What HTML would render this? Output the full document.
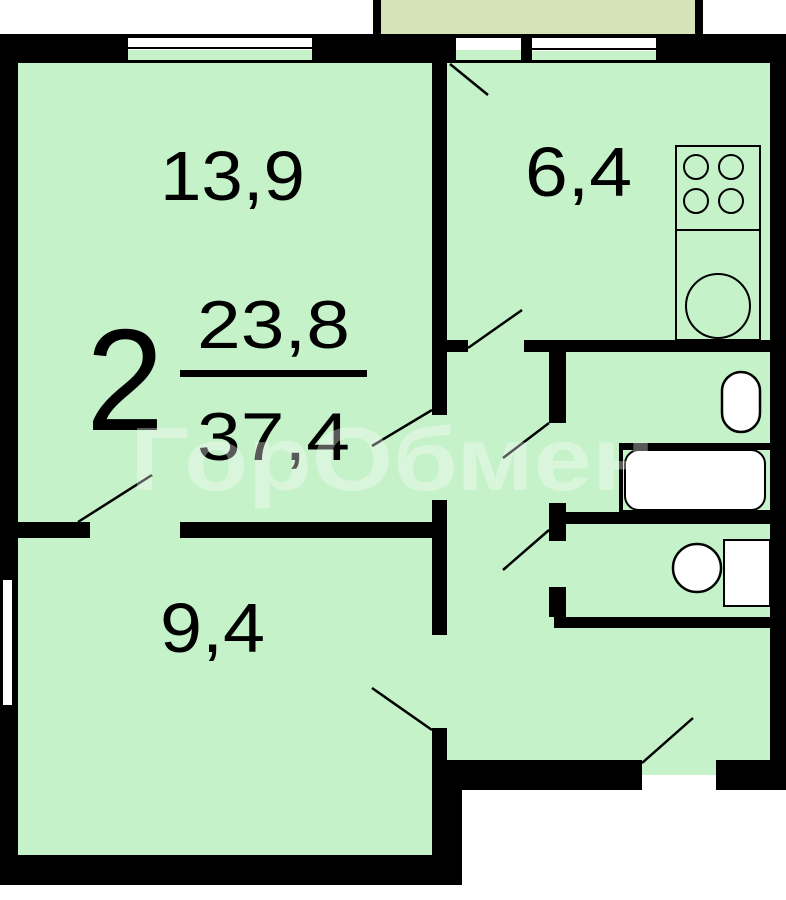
<!DOCTYPE html>
<html><head><meta charset="utf-8"><style>
html,body{margin:0;padding:0;background:#fff}
svg{display:block}
text{font-family:"Liberation Sans",sans-serif;fill:#000}
</style></head><body>
<svg width="786" height="900" viewBox="0 0 786 900">
<rect x="373" y="0" width="330" height="36" fill="#000"/>
<rect x="381" y="0" width="314" height="34" fill="#d5e3b7"/>
<path d="M18 62 H770 V775 H447 V855 H18 Z" fill="#c5f2c9"/>
<rect x="0" y="34" width="786" height="29" fill="#000"/>
<rect x="0" y="34" width="18" height="851" fill="#000"/>
<rect x="770" y="34" width="16" height="756" fill="#000"/>
<rect x="0" y="855" width="462" height="30" fill="#000"/>
<rect x="432" y="760" width="30" height="125" fill="#000"/>
<rect x="432" y="760" width="210" height="30" fill="#000"/>
<rect x="716" y="760" width="70" height="30" fill="#000"/>
<rect x="128" y="38" width="184" height="22" fill="#fff"/>
<rect x="128" y="50" width="184" height="10" fill="#c5f2c9"/>
<line x1="128" y1="48" x2="312" y2="48" stroke="#000" stroke-width="2"/>
<rect x="456" y="38" width="65" height="22" fill="#fff"/>
<rect x="456" y="50" width="65" height="10" fill="#c5f2c9"/>
<rect x="532" y="38" width="124" height="22" fill="#fff"/>
<rect x="532" y="51" width="124" height="9" fill="#c5f2c9"/>
<line x1="532" y1="49" x2="656" y2="49" stroke="#000" stroke-width="2"/>
<rect x="3" y="580" width="9" height="125" fill="#fff"/>
<rect x="432" y="62" width="15" height="353" fill="#000"/>
<rect x="432" y="340" width="36" height="12" fill="#000"/>
<rect x="524" y="340" width="246" height="12" fill="#000"/>
<rect x="549" y="352" width="17" height="71" fill="#000"/>
<rect x="18" y="522" width="72" height="16" fill="#000"/>
<rect x="180" y="522" width="265" height="16" fill="#000"/>
<rect x="432" y="500" width="15" height="135" fill="#000"/>
<rect x="432" y="728" width="15" height="40" fill="#000"/>
<rect x="549" y="512" width="221" height="12" fill="#000"/>
<rect x="549" y="503" width="17" height="38" fill="#000"/>
<rect x="549" y="587" width="17" height="30" fill="#000"/>
<rect x="554" y="617" width="216" height="11" fill="#000"/>
<g stroke="#000" stroke-width="2.5">
<line x1="450" y1="64" x2="488" y2="95"/>
<line x1="468" y1="348" x2="522" y2="310"/>
<line x1="372" y1="446" x2="432" y2="410"/>
<line x1="503" y1="458" x2="549" y2="423"/>
<line x1="78" y1="522" x2="152" y2="475"/>
<line x1="503" y1="570" x2="549" y2="530"/>
<line x1="372" y1="688" x2="432" y2="730"/>
<line x1="642" y1="763" x2="693" y2="718"/>
</g>
<rect x="676" y="146" width="84" height="194" fill="none" stroke="#000" stroke-width="2"/>
<line x1="676" y1="230" x2="760" y2="230" stroke="#000" stroke-width="2"/>
<g fill="none" stroke="#000" stroke-width="2">
<circle cx="696" cy="167" r="12"/><circle cx="731" cy="167" r="12"/>
<circle cx="696" cy="201" r="12"/><circle cx="731" cy="201" r="12"/>
<circle cx="718" cy="306" r="32"/>
</g>
<rect x="722" y="372" width="38" height="60" rx="19" fill="#fff" stroke="#000" stroke-width="2.5"/>
<rect x="619" y="443" width="151" height="70" fill="#000"/>
<rect x="623" y="450" width="147" height="60" fill="#c5f2c9"/>
<rect x="625" y="450" width="140" height="60" rx="14" fill="#fff" stroke="#000" stroke-width="2"/>
<circle cx="697" cy="568" r="24" fill="#fff" stroke="#000" stroke-width="2.5"/>
<rect x="724" y="540" width="46" height="66" fill="#fff" stroke="#000" stroke-width="2"/>
<text x="160" y="200" font-size="70" textLength="145" lengthAdjust="spacingAndGlyphs">13,9</text>
<text x="525" y="196" font-size="70" textLength="107" lengthAdjust="spacingAndGlyphs">6,4</text>
<text x="160" y="652" font-size="70" textLength="105" lengthAdjust="spacingAndGlyphs">9,4</text>
<text x="86" y="430" font-size="145" textLength="78" lengthAdjust="spacingAndGlyphs">2</text>
<text x="197" y="348" font-size="68" textLength="153" lengthAdjust="spacingAndGlyphs">23,8</text>
<rect x="180" y="370" width="187" height="7" fill="#000"/>
<text x="197" y="460" font-size="68" textLength="153" lengthAdjust="spacingAndGlyphs">37,4</text>
<text x="130" y="490" font-size="90" font-weight="bold" textLength="525" lengthAdjust="spacingAndGlyphs" style="fill:#fff;fill-opacity:0.35">ГорОбмен</text>
</svg>
</body></html>
